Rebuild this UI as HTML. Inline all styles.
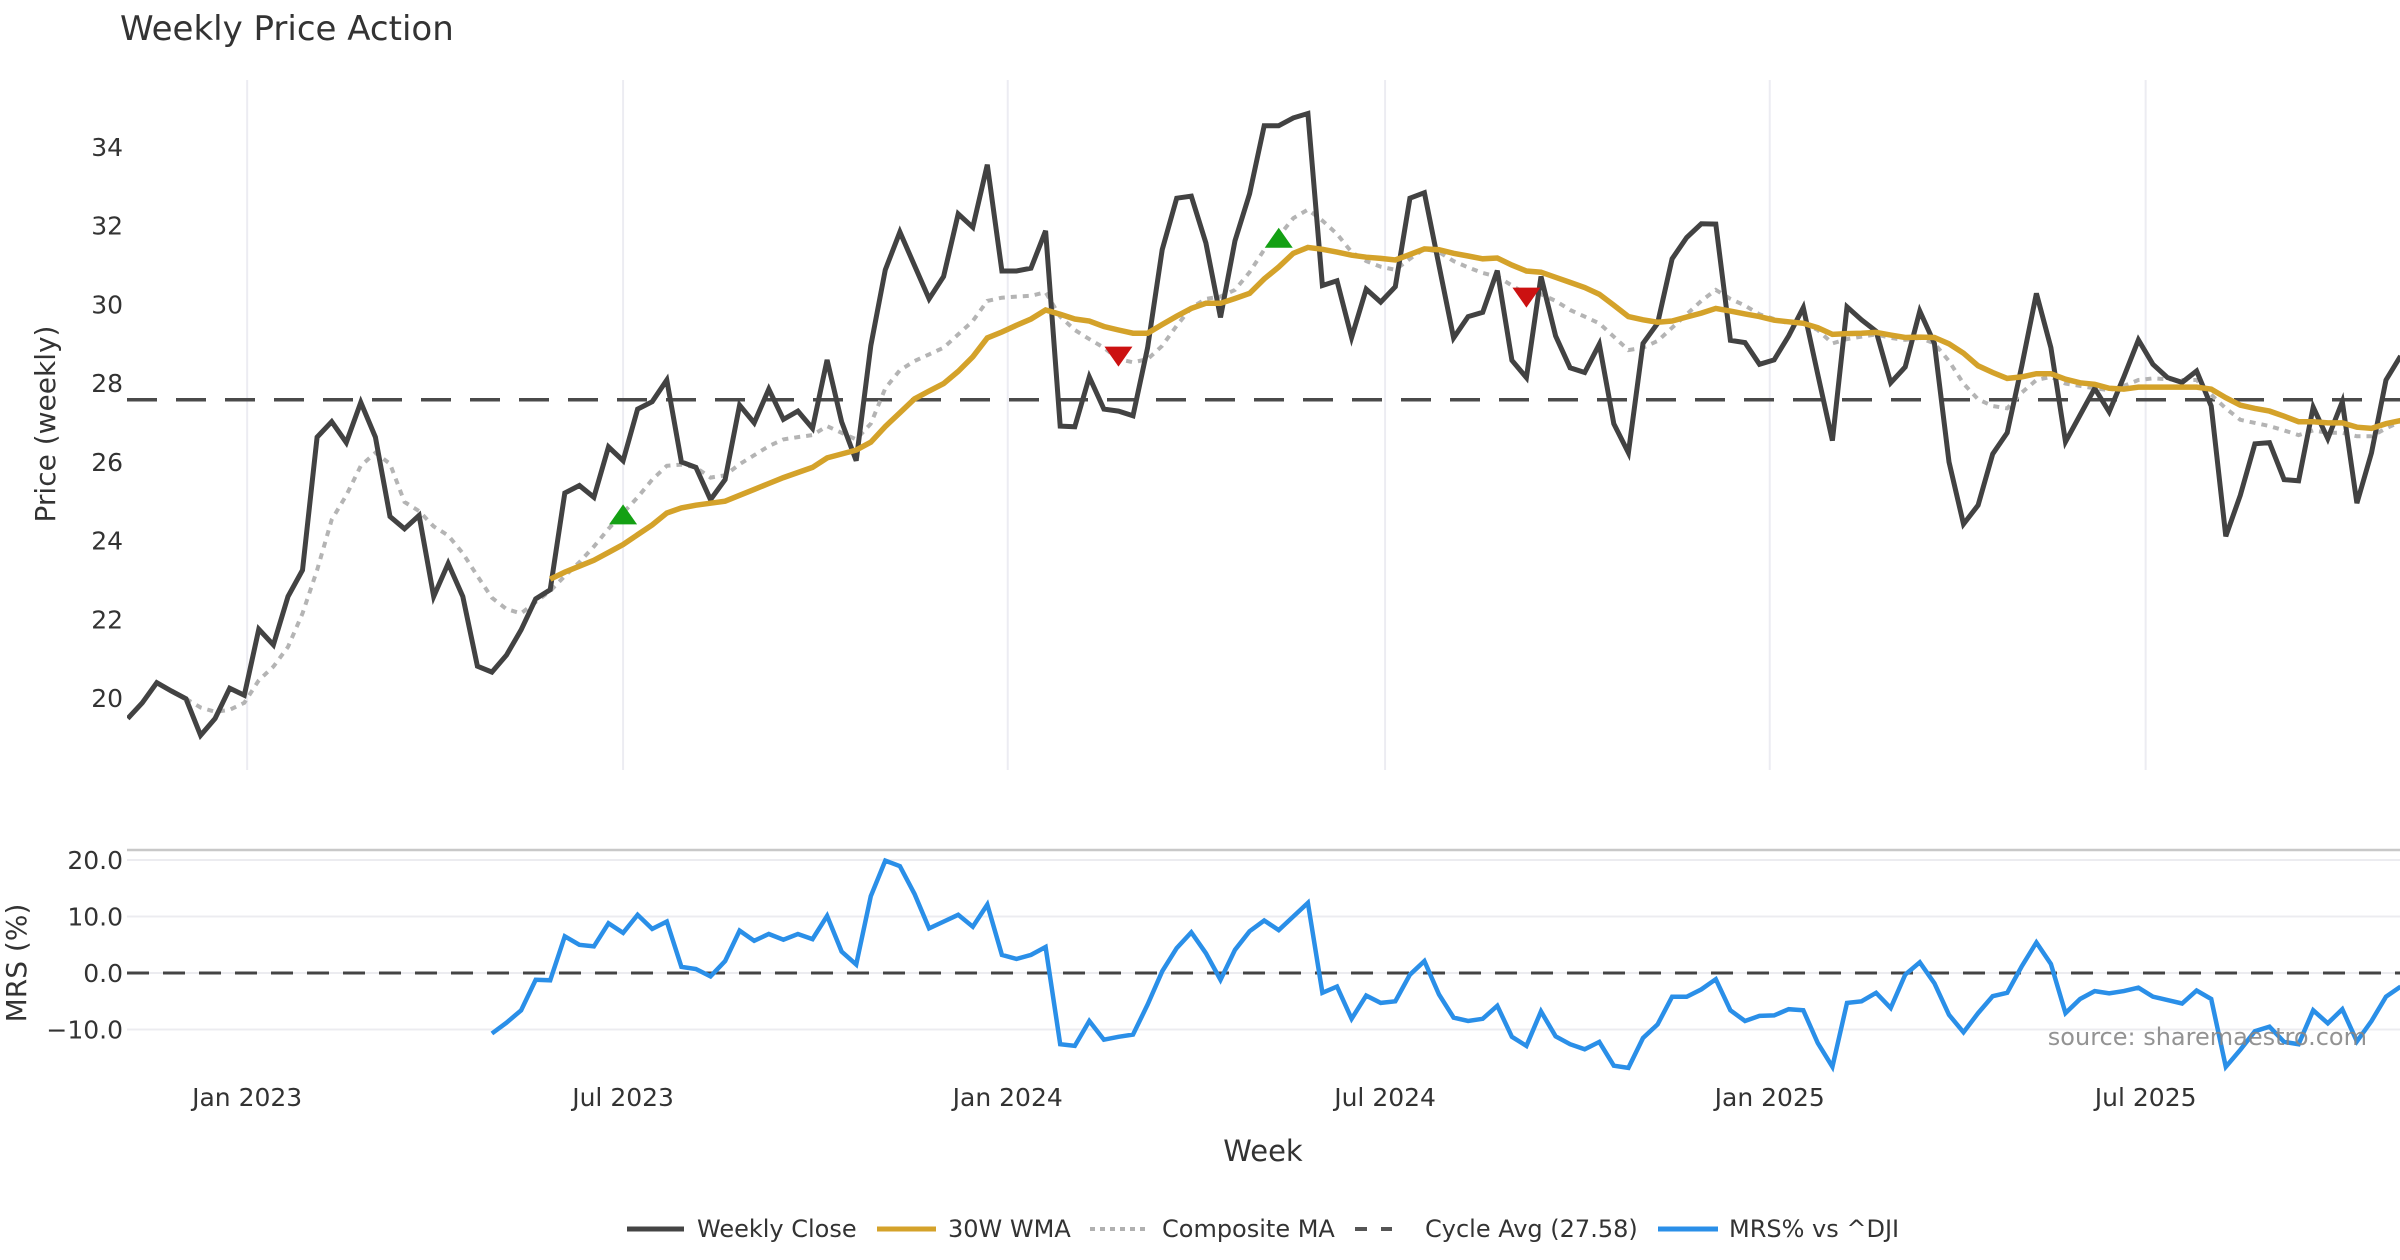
<!DOCTYPE html>
<html><head><meta charset="utf-8"><style>
html,body{margin:0;padding:0;background:#fff;}
svg{display:block;font-family:"DejaVu Sans","Liberation Sans",sans-serif;}
</style></head><body>
<svg id="chart" width="2400" height="1260" viewBox="0 0 2400 1260" xmlns="http://www.w3.org/2000/svg">
<defs>
<clipPath id="plotclip"><rect x="127" y="60" width="2273" height="720"/></clipPath>
<clipPath id="mrsclip"><rect x="127" y="850" width="2273" height="230"/></clipPath>
</defs>
<text x="120" y="40" font-size="34" fill="#333">Weekly Price Action</text>
<g id="grid"></g>
<g id="price-axis"></g>
<g id="mrs-axis"></g>
<g id="series"></g>
<text transform="translate(55,424) rotate(-90)" text-anchor="middle" font-size="28" fill="#333">Price (weekly)</text>
<text transform="translate(26,963) rotate(-90)" text-anchor="middle" font-size="28" fill="#333">MRS (%)</text>
<text x="1263" y="1161" text-anchor="middle" font-size="29" fill="#333">Week</text>
<text x="2367" y="1045" text-anchor="end" font-size="24" fill="#888" opacity="0.9">source: sharemaestro.com</text>
<g font-size="24" fill="#333">
 <g><line x1="627" y1="1229" x2="684" y2="1229" stroke="#444" stroke-width="5"/><text x="697" y="1237">Weekly Close</text></g>
 <g><line x1="877" y1="1229" x2="936" y2="1229" stroke="#d4a22a" stroke-width="5"/><text x="948" y="1237">30W WMA</text></g>
 <g><line x1="1090" y1="1229" x2="1146" y2="1229" stroke="#b0b0b0" stroke-width="4" stroke-dasharray="5,5"/><text x="1162" y="1237">Composite MA</text></g>
 <g><line x1="1355" y1="1229" x2="1392" y2="1229" stroke="#555" stroke-width="4" stroke-dasharray="12,14"/><text x="1425" y="1237">Cycle Avg (27.58)</text></g>
 <g><line x1="1658" y1="1229" x2="1718" y2="1229" stroke="#2a8fe8" stroke-width="5"/><text x="1729" y="1237">MRS% vs ^DJI</text></g>
</g>
</svg>
<script>
const closes=[19.48,19.88,20.39,20.18,19.98,19.05,19.48,20.25,20.07,21.75,21.35,22.58,23.25,26.63,27.02,26.49,27.51,26.63,24.61,24.30,24.64,22.58,23.42,22.58,20.81,20.66,21.09,21.73,22.52,22.75,25.21,25.40,25.10,26.38,26.03,27.34,27.53,28.08,26.00,25.86,25.04,
25.55,27.44,26.99,27.85,27.08,27.29,26.85,28.59,27.02,26.03,28.95,30.88,31.84,30.99,30.14,30.71,32.30,31.96,33.55,30.85,30.85,30.92,31.87,26.91,26.89,28.16,27.34,27.29,27.17,28.90,31.39,32.70,32.75,31.56,29.67,31.62,32.81,34.54,34.54,34.74,
34.85,30.48,30.60,29.16,30.39,30.06,30.45,32.70,32.84,30.99,29.15,29.69,29.80,30.86,28.58,28.14,30.71,29.20,28.39,28.27,28.99,26.97,26.23,29.01,29.52,31.16,31.70,32.05,32.04,29.09,29.03,28.48,28.59,29.20,29.92,28.22,26.54,29.94,29.61,29.32,
28.01,28.41,29.83,29.01,26.00,24.42,24.90,26.20,26.74,28.44,30.28,28.90,26.51,27.19,27.87,27.27,28.16,29.10,28.48,28.14,28.02,28.31,27.42,24.11,25.15,26.46,26.49,25.55,25.52,27.39,26.59,27.53,24.95,26.23,28.08,28.69];
const wma=[null,null,null,null,null,null,null,null,null,null,null,null,null,null,null,null,null,null,null,null,null,null,null,null,null,null,null,null,null,
23.02,23.2,23.35,23.5,23.7,23.9,24.15,24.4,24.7,24.83,24.9,24.95,25.0,25.15,25.3,25.45,25.6,25.73,25.86,26.1,26.2,26.3,26.5,26.9,27.25,27.6,27.8,27.99,28.3,28.67,29.15,29.3,29.47,29.63,29.86,29.75,29.63,29.58,29.44,29.35,29.27,29.27,29.49,29.7,29.9,30.03,30.03,30.15,30.28,30.65,30.95,31.3,
31.45,31.4,31.33,31.25,31.2,31.17,31.13,31.27,31.41,31.39,31.3,31.23,31.16,31.18,31.0,30.85,30.82,30.69,30.56,30.43,30.26,29.98,29.69,29.61,29.55,29.58,29.68,29.78,29.9,29.83,29.76,29.69,29.6,29.56,29.52,29.41,29.24,29.26,29.27,29.29,
29.22,29.16,29.17,29.16,29.0,28.76,28.44,28.27,28.12,28.16,28.24,28.24,28.1,28.01,27.97,27.87,27.85,27.9,27.9,27.9,27.9,27.9,27.85,27.63,27.44,27.36,27.29,27.16,27.02,27.02,26.99,26.99,26.88,26.85,26.97,27.05];
const compositeMa=[null,null,null,null,
19.98,19.76,19.65,19.7,19.88,20.45,20.8,21.3,22.15,23.25,24.53,25.15,25.9,26.23,25.95,24.98,24.75,24.36,24.13,23.68,23.1,22.55,22.26,22.15,22.44,22.72,23.1,23.45,23.85,24.3,24.7,25.1,25.55,25.9,25.93,25.86,25.6,
25.66,25.94,26.17,26.4,26.57,26.63,26.68,26.91,26.74,26.57,26.97,27.87,28.33,28.56,28.73,28.9,29.24,29.58,30.09,30.17,30.2,30.22,30.31,29.69,29.35,29.12,28.9,28.61,28.53,28.61,28.95,29.46,29.92,30.14,30.2,30.37,30.82,31.39,31.73,32.19,
32.41,32.13,31.79,31.33,31.1,30.96,30.88,31.16,31.41,31.33,31.1,30.94,30.8,30.71,30.48,30.26,30.26,30.09,29.86,29.69,29.52,29.18,28.84,28.9,29.07,29.41,29.75,30.09,30.37,30.14,29.97,29.75,29.63,29.52,29.52,29.35,29.01,29.12,29.18,29.24,
29.15,29.1,29.15,29.01,28.56,27.99,27.59,27.42,27.36,27.76,28.08,28.16,27.99,27.93,27.87,27.82,27.93,28.08,28.12,28.1,28.08,28.08,27.71,27.36,27.07,26.99,26.91,26.8,26.68,26.8,26.74,26.74,26.65,26.65,26.85,27.02];
const mrs=[null,null,null,null,null,null,null,null,null,null,null,null,null,null,null,null,null,null,null,null,null,null,null,null,null,
-10.7,-8.8,-6.6,-1.2,-1.3,6.5,5.0,4.7,8.8,7.1,10.3,7.8,9.1,1.1,0.7,-0.6,2.1,7.5,5.7,6.9,5.9,6.9,6.0,10.1,3.8,1.5,13.6,19.9,18.9,14.0,7.9,9.1,10.3,8.2,12.1,3.2,2.5,3.2,4.6,-12.6,-12.9,-8.5,-11.8,-11.3,-10.9,-5.6,0.3,4.4,7.2,3.5,-1.2,4.1,7.4,9.3,7.6,10.0,12.4,-3.5,-2.4,-8.1,-4.0,-5.3,-5.0,-0.3,2.1,
-3.8,-7.9,-8.5,-8.1,-5.8,-11.3,-12.9,-6.8,-11.2,-12.6,-13.5,-12.2,-16.4,-16.8,-11.5,-9.1,-4.2,-4.2,-2.9,-1.1,-6.6,-8.5,-7.6,-7.5,-6.4,-6.6,-12.4,-16.6,-5.3,-5.0,-3.5,-6.2,-0.3,1.9,-1.8,-7.4,-10.5,-7.1,-4.1,-3.5,1.2,5.4,1.6,-7.1,-4.6,-3.2,-3.6,-3.2,-2.6,-4.2,-4.8,-5.4,-3.1,-4.6,-16.6,-13.6,-10.3,-9.5,-12.2,-12.6,-6.6,-8.9,-6.4,-12.1,-8.5,-4.2,-2.4];
const cycleAvg=27.58;
const buyIdx=[34,79];
const buyVal=[24.64,31.67];
const sellIdx=[68,96];
const sellVal=[28.7,30.2];
const priceTicks=[20,22,24,26,28,30,32,34];
const mrsTicks=[20,10,0,-10];
const mrsTickLabels=["20.0","10.0","0.0","\u221210.0"];
const xTickWeeks=[8.2,34.0,60.4,86.3,112.7,138.5];
const xTickLabels=["Jan 2023","Jul 2023","Jan 2024","Jul 2024","Jan 2025","Jul 2025"];

const NS="http://www.w3.org/2000/svg";
function x(i){return 127.7+14.57*i;}
function yP(v){return 147+(34-v)*39.36;}
function yM(v){return 973-v*5.65;}
function mk(tag,attrs,parent){const e=document.createElementNS(NS,tag);for(const k in attrs)e.setAttribute(k,attrs[k]);parent.appendChild(e);return e;}
function pathFor(arr,yf){let d="",pen=false;arr.forEach((v,i)=>{if(v==null){pen=false;return;}d+=(pen?"L":"M")+x(i).toFixed(1)+","+yf(v).toFixed(1);pen=true;});return d;}

const grid=document.getElementById("grid");
xTickWeeks.forEach((w,k)=>{
 const gl=mk("line",{x1:x(w),x2:x(w),y1:80,y2:770,stroke:"#ececf2","stroke-width":2},grid);
 
 
 const t=mk("text",{x:x(w),y:1106,"text-anchor":"middle","font-size":25,fill:"#333"},grid);
 t.textContent=xTickLabels[k];
 
 
});
const pa=document.getElementById("price-axis");
priceTicks.forEach(v=>{
 const t=mk("text",{x:123,y:yP(v)+9,"text-anchor":"end","font-size":25,fill:"#333"},pa);
 t.textContent=String(v);
 
 
});
const ma=document.getElementById("mrs-axis");
const border=mk("line",{x1:127,x2:2400,y1:850,y2:850,stroke:"#c8c8c8","stroke-width":2.5},ma);


mrsTicks.forEach((v,k)=>{
 const g=mk("line",{x1:127,x2:2400,y1:yM(v),y2:yM(v),stroke:"#ececf0","stroke-width":2},ma);
 
 
 const t=mk("text",{x:123,y:yM(v)+9,"text-anchor":"end","font-size":25,fill:"#333"},ma);
 t.textContent=mrsTickLabels[k];
 
 
});

const s=document.getElementById("series");
const gp=mk("g",{"clip-path":"url(#plotclip)"},s);
const cyc=mk("line",{x1:127,x2:2400,y1:yP(cycleAvg),y2:yP(cycleAvg),stroke:"#4a4a4a","stroke-width":3.5,"stroke-dasharray":"30,19"},gp);


const gm=mk("path",{d:pathFor(compositeMa,yP),fill:"none",stroke:"#b4b4b4","stroke-width":4,"stroke-dasharray":"6,6"},gp);


const cl=mk("path",{d:pathFor(closes,yP),fill:"none",stroke:"#424242","stroke-width":5,"stroke-linejoin":"miter"},gp);


const wl=mk("path",{d:pathFor(wma,yP),fill:"none",stroke:"#d4a22a","stroke-width":5.5},gp);


buyIdx.forEach((i,k)=>{
 const cx=x(i),cy=yP(buyVal[k]);
 const p=mk("polygon",{points:`${cx-14},${cy+9} ${cx+14},${cy+9} ${cx},${cy-11}`,fill:"#14a014"},gp);
 
 
});
sellIdx.forEach((i,k)=>{
 const cx=x(i),cy=yP(sellVal[k]);
 const p=mk("polygon",{points:`${cx-14},${cy-9} ${cx+14},${cy-9} ${cx},${cy+11}`,fill:"#cc1111"},gp);
 
 
});
const gmr=mk("g",{"clip-path":"url(#mrsclip)"},s);
const zl=mk("line",{x1:127,x2:2400,y1:yM(0),y2:yM(0),stroke:"#444","stroke-width":3,"stroke-dasharray":"22,14"},gmr);


const ml=mk("path",{d:pathFor(mrs,yM),fill:"none",stroke:"#2a8fe8","stroke-width":4.5},gmr);


</script>
</body></html>
